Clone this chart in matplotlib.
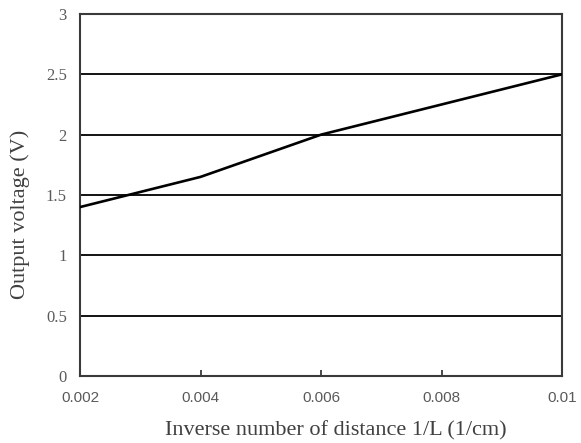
import matplotlib
matplotlib.use("Agg")
import matplotlib.pyplot as plt

# data
inv_distance = [0.002, 0.004, 0.006, 0.008, 0.01]
voltage = [1.40, 1.65, 2.00, 2.25, 2.50]
x_ticks = [0.002, 0.004, 0.006, 0.008, 0.01]
x_tick_labels = ["0.002", "0.004", "0.006", "0.008", "0.01"]
y_ticks = [0, 0.5, 1, 1.5, 2, 2.5, 3]
y_tick_labels = ["0", "0.5", "1", "1.5", "2", "2.5", "3"]

plt.rcParams['font.family'] = ['Liberation Serif', 'DejaVu Serif']

W, H = 581, 443
fig = plt.figure(figsize=(W / 100, H / 100), dpi=100)
ax = fig.add_axes([80 / W, 1 - 376 / H, 482 / W, 362 / H])

ax.plot(inv_distance, voltage, color='black', lw=1.9, zorder=3)

ax.set_xlim(0.002, 0.01)
ax.set_ylim(0, 3)
ax.set_yticks(y_ticks)
ax.set_yticklabels(y_tick_labels)
ax.set_xticks(x_ticks)
ax.set_xticklabels(x_tick_labels, family=['Liberation Sans', 'DejaVu Sans'])
ax.grid(axis='y', color='black', lw=1.3)
ax.set_axisbelow(True)

for sp in ax.spines.values():
    sp.set_color('#3a3a3a')
    sp.set_linewidth(1.5)

ax.tick_params(axis='x', direction='in', length=4, width=1.3, colors='#3a3a3a',
               labelcolor='#5a5a5a', labelsize=11, pad=11)
ax.tick_params(axis='y', length=0, labelcolor='#5a5a5a', labelsize=12, pad=9.5)

# axis titles placed where they sit in the reference
fig.text(336 / W, 1 - 431 / H, 'Inverse number of distance 1/L (1/cm)',
         fontsize=16, color='#404040', ha='center', va='center')
fig.text(20 / W, 1 - 214 / H, 'Output voltage (V)', fontsize=16, color='#404040',
         rotation=90, ha='center', va='center')

fig.savefig('out.png', dpi=100)
